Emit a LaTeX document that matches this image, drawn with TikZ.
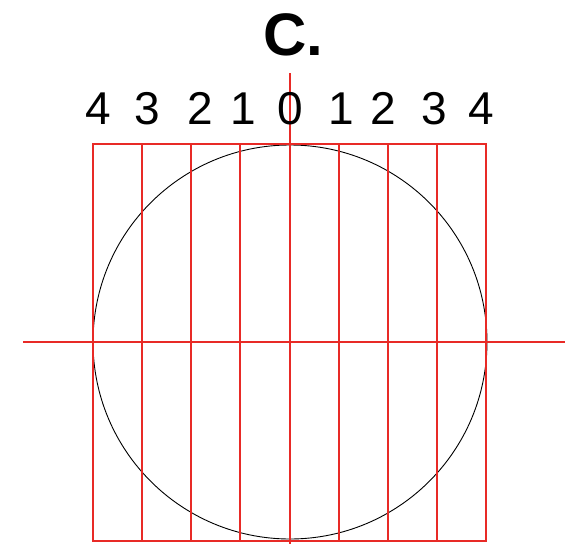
\documentclass[tikz,border=0pt]{standalone}
\usepackage{fontspec}
\setmainfont{Liberation Sans}
\definecolor{gridred}{RGB}{232,42,38}

\begin{document}
\begin{tikzpicture}[x=1pt, y=-1pt,
    gridline/.style={draw=gridred, line width=1.1pt},
    digit/.style={font=\fontsize{46}{46}\selectfont, inner sep=0pt, anchor=base}]
    \useasboundingbox (0,0) rectangle (582,544);

    % Draw circle
    \node[circle, draw, line width=0.9pt, minimum size=394pt, inner sep=0pt] (circ) at (290,342) {};

    % Draw grid
    \draw[gridline] (93,144) rectangle (486,541);
    \foreach \x in {142,191,240,339,388,437}
        \draw[gridline] (\x,144) -- (\x,541);

    % Draw axes
    \coordinate (left) at (23,342);
    \coordinate (right) at (565,342);
    \coordinate (top) at (290,73);
    \coordinate (bottom) at (290,544);
    \draw[gridline] (left) -- (right);
    \draw[gridline] (top) -- (bottom);

    % Labels
    \node[font=\fontsize{60}{60}\selectfont\bfseries, inner sep=0pt, anchor=base] (title) at (293,55) {C.};
    \node[digit] (l4) at (98,124) {4};
    \node[digit] (l3) at (147,124) {3};
    \node[digit] (l2) at (200,124) {2};
    \node[digit] (l1) at (243,124) {1};
    \node[digit] (c0) at (290,124) {0};
    \node[digit] (r1) at (341,124) {1};
    \node[digit] (r2) at (383,124) {2};
    \node[digit] (r3) at (434,124) {3};
    \node[digit] (r4) at (481,124) {4};
\end{tikzpicture}
\end{document}
